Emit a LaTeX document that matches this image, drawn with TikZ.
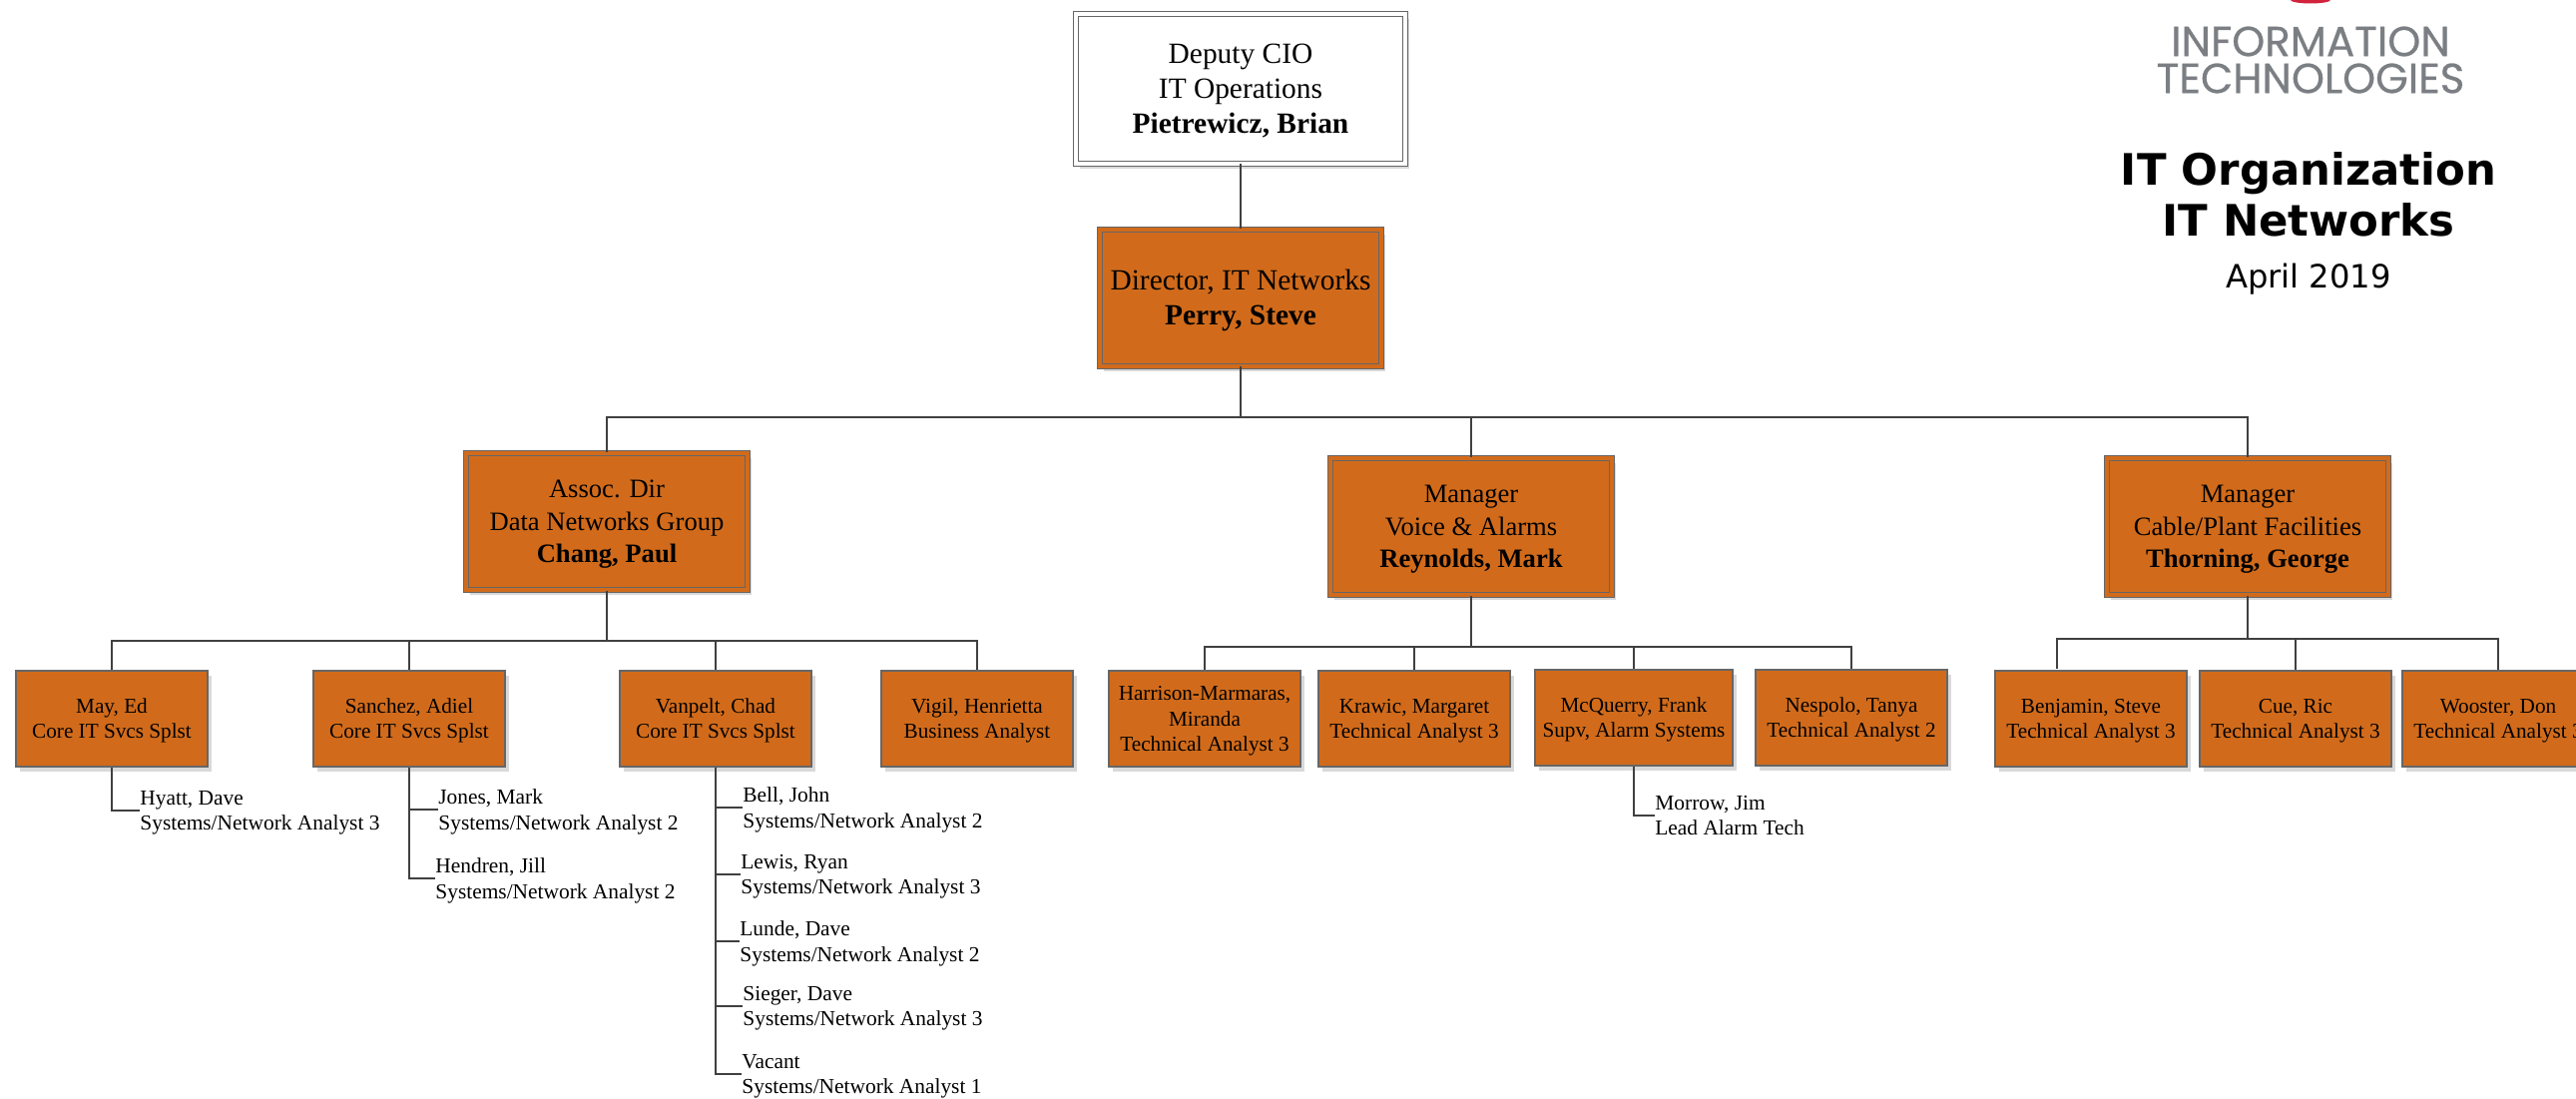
\documentclass[tikz,border=0pt]{standalone}
\usepackage{fontspec}
\setmainfont{Liberation Serif}
\newfontfamily\logofont[FakeBold=0.6]{Poppins}
\newfontfamily\titlefont{DejaVu Sans}
\usetikzlibrary{shadows}
\definecolor{boxorange}{HTML}{D16B1B}
\definecolor{linegray}{HTML}{404040}
\definecolor{logogray}{HTML}{7B7F83}
\definecolor{logored}{HTML}{D2233C}
\tikzset{
  shade box/.style={drop shadow={shadow xshift=2pt,shadow yshift=-2.5pt,opacity=.15,fill=black}},
  staffbox/.style={draw=black!60,line width=.6pt,fill=boxorange,shade box,minimum width=96pt,minimum height=48pt,inner sep=0pt,align=center,text depth=0pt,font=\fontsize{10.6}{12.6}\selectfont},
  leadbox/.style={draw=black!60,line width=.5pt,fill=boxorange,double=boxorange,double distance=2pt,shade box,minimum width=141pt,minimum height=68.5pt,inner sep=0pt,align=center,text depth=-1.8pt,font=\fontsize{13.3}{16.2}\selectfont},
  headbox/.style={leadbox,text depth=.7pt,font=\fontsize{14.7}{17.5}\selectfont},
  topbox/.style={headbox,fill=white,double=white,minimum width=165pt,minimum height=75pt},
  staffname/.style={anchor=west,inner sep=0pt,align=left,text depth=-1pt,font=\fontsize{10.7}{12.8}\selectfont},
  wire/.style={draw=linegray,line width=1.3pt},
}
\begin{document}
\begin{tikzpicture}[x=.5pt,y=-.5pt]
  \useasboundingbox (0,0) rectangle (2581,1101);
  \clip (0,0) rectangle (2581,1101);

  \fill[logored] (2315,0) ellipse[x radius=20,y radius=3.5];
  \node[text=logogray,font=\logofont\fontsize{21}{18.5}\selectfont,align=center] (L0) at (2315,60) {INFORMATION\\TECHNOLOGIES};
  \node[font=\titlefont\bfseries\fontsize{21.7}{25.5}\selectfont,align=center] (T0) at (2313,195) {IT Organization\\IT Networks};
  \node[font=\titlefont\fontsize{16.1}{18}\selectfont] (T1) at (2313,280) {April 2019};

  \node[topbox] (P0) at (1243,89) {Deputy CIO\\IT Operations\\\textbf{Pietrewicz, Brian}};
  \node[headbox] (P1) at (1243,298.5) {Director, IT Networks\\\textbf{Perry, Steve}};
  \node[leadbox] (A1) at (608,522.5) {Assoc. Dir\\Data Networks Group\\\textbf{Chang, Paul}};
  \node[leadbox] (A2) at (1474,527.5) {Manager\\Voice \& Alarms\\\textbf{Reynolds, Mark}};
  \node[leadbox] (A3) at (2252,527.5) {Manager\\Cable/Plant Facilities\\\textbf{Thorning, George}};

  \node[staffbox] (S1) at (112,720) {May, Ed\\Core IT Svcs Splst};
  \node[staffbox] (S2) at (410,720) {Sanchez, Adiel\\Core IT Svcs Splst};
  \node[staffbox] (S3) at (717,720) {Vanpelt, Chad\\Core IT Svcs Splst};
  \node[staffbox] (S4) at (979,720) {Vigil, Henrietta\\Business Analyst};
  \node[staffbox] (V1) at (1207,720) {Harrison-Marmaras,\\Miranda\\Technical Analyst 3};
  \node[staffbox] (V2) at (1417,720) {Krawic, Margaret\\Technical Analyst 3};
  \node[staffbox,minimum width=99pt] (V3) at (1637,719) {McQuerry, Frank\\Supv, Alarm Systems};
  \node[staffbox] (V4) at (1855,719) {Nespolo, Tanya\\Technical Analyst 2};
  \node[staffbox] (C1) at (2095,720) {Benjamin, Steve\\Technical Analyst 3};
  \node[staffbox] (C2) at (2300,720) {Cue, Ric\\Technical Analyst 3};
  \node[staffbox] (C3) at (2503,720) {Wooster, Don\\Technical Analyst 3};

  \node[staffname] (R1) at (140,812) {Hyatt, Dave\\Systems/Network Analyst 3};
  \node[staffname] (R2) at (439,811) {Jones, Mark\\Systems/Network Analyst 2};
  \node[staffname] (R3) at (436,880) {Hendren, Jill\\Systems/Network Analyst 2};
  \node[staffname] (R4) at (744,809) {Bell, John\\Systems/Network Analyst 2};
  \node[staffname] (R5) at (742,876) {Lewis, Ryan\\Systems/Network Analyst 3};
  \node[staffname] (R6) at (741,943) {Lunde, Dave\\Systems/Network Analyst 2};
  \node[staffname] (R7) at (744,1008) {Sieger, Dave\\Systems/Network Analyst 3};
  \node[staffname] (R8) at (743,1076) {Vacant\\Systems/Network Analyst 1};
  \node[staffname] (R9) at (1658,817) {Morrow, Jim\\Lead Alarm Tech};

  \coordinate (B0) at (1243,418);
  \coordinate (B1) at (608,642);
  \coordinate (B2) at (1474,648);
  \coordinate (B3) at (2252,640);
  \coordinate (C1top) at (2061,670);

  \draw[wire] (P0.south) -- (P1.north);
  \draw[wire] (P1.south) -- (B0);
  \draw[wire] (B0) -| (A1.north);
  \draw[wire] (B0) -| (A2.north);
  \draw[wire] (B0) -| (A3.north);

  \draw[wire] (A1.south) -- (B1);
  \draw[wire] (B1) -| (S1.north);
  \draw[wire] (B1) -| (S2.north);
  \draw[wire] (B1) -| (S3.north);
  \draw[wire] (B1) -| (S4.north);

  \draw[wire] (A2.south) -- (B2);
  \draw[wire] (B2) -| (V1.north);
  \draw[wire] (B2) -| (V2.north);
  \draw[wire] (B2) -| (V3.north);
  \draw[wire] (B2) -| (V4.north);

  \draw[wire] (A3.south) -- (B3);
  \draw[wire] (B3) -| (C1top);
  \draw[wire] (B3) -| (C2.north);
  \draw[wire] (B3) -| (C3.north);

  \draw[wire] (S1.south) |- (R1.west);
  \draw[wire] (S2.south) |- (R2.west);
  \draw[wire] (S2.south) |- (R3.west);
  \draw[wire] (S3.south) |- (R4.west);
  \draw[wire] (S3.south) |- (R5.west);
  \draw[wire] (S3.south) |- (R6.west);
  \draw[wire] (S3.south) |- (R7.west);
  \draw[wire] (S3.south) |- (R8.west);
  \draw[wire] (V3.south) |- (R9.west);
\end{tikzpicture}
\end{document}
